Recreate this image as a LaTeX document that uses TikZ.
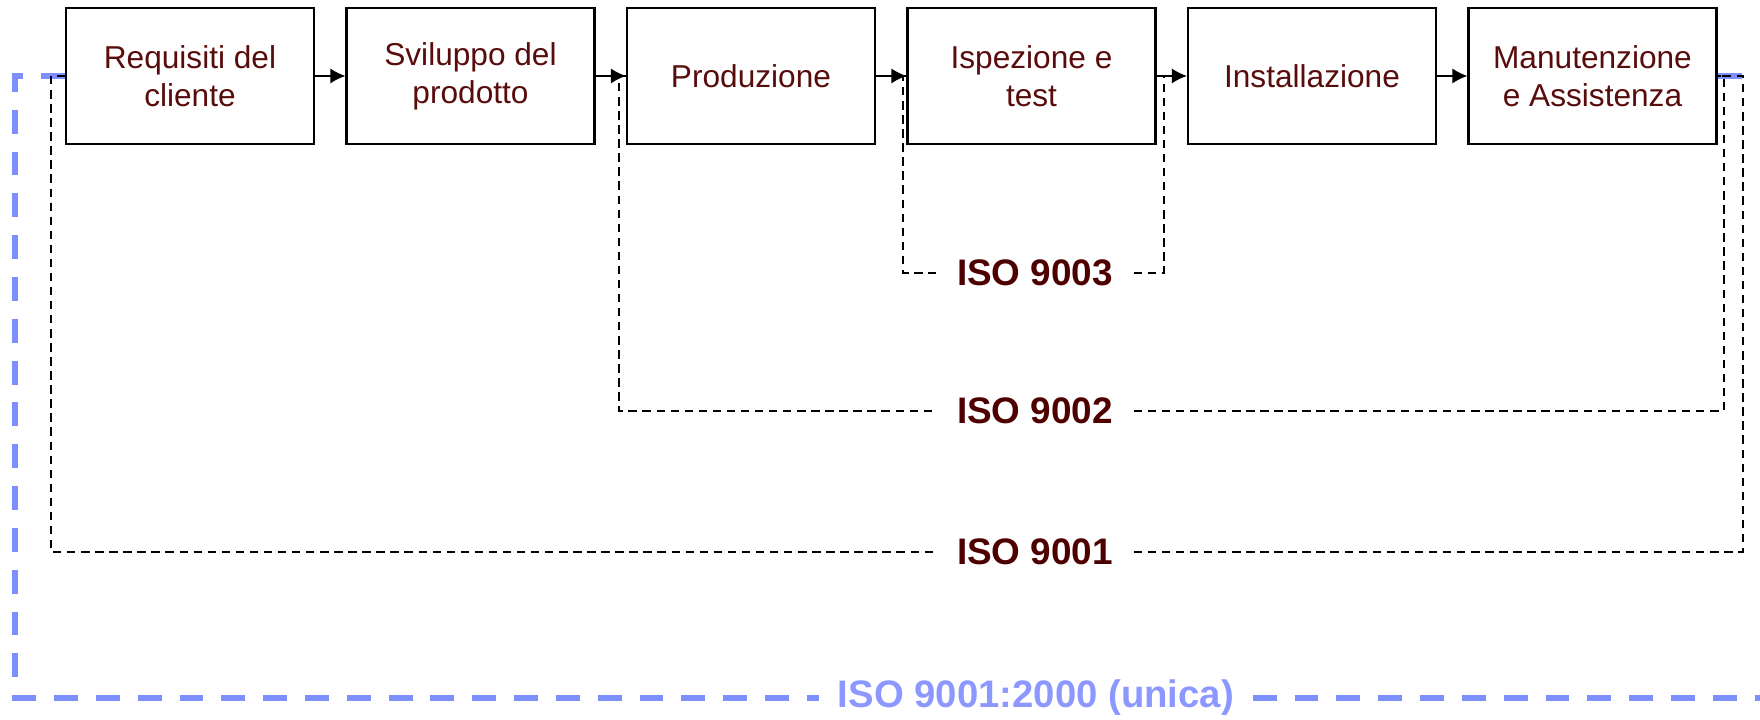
\documentclass[tikz,border=0pt]{standalone}
\usepackage{fontspec}
\setmainfont{Liberation Sans}
\usetikzlibrary{arrows.meta}

\definecolor{boxtext}{RGB}{88,12,12}
\definecolor{isotext}{RGB}{78,0,0}
\definecolor{qualblue}{RGB}{125,142,255}
\definecolor{qualtext}{RGB}{140,152,255}

\tikzset{
    stepbox/.style={draw, line width=0.6pt, minimum width=2.48cm, minimum height=1.36cm,
        align=center, text=boxtext, font=\fontsize{9}{10.8}\selectfont},
    flow/.style={-{Latex[length=4.3pt,width=4.3pt]}, line width=0.4pt},
    isoline/.style={line width=0.55pt, dash pattern=on 2.4pt off 1.6pt},
    isolabel/.style={text=isotext, inner xsep=0.2cm, font=\fontsize{10.5}{12.6}\selectfont\bfseries},
    qualline/.style={qualblue, line width=1.7pt, dash pattern=on 6.8pt off 5.1pt},
    quallabel/.style={text=qualtext, inner xsep=0.18cm, font=\fontsize{10.9}{13}\selectfont\bfseries}
}

\begin{document}
\begin{tikzpicture}
    \useasboundingbox (0,0) rectangle (17.6,7.2);

    % fasi del processo
    \foreach \txt [count=\i] in {{Requisiti del\\cliente}, {Sviluppo del\\prodotto}, Produzione,
            {Ispezione e\\test}, Installazione, {Manutenzione\\e Assistenza}} {
        \node[stepbox] (b\i) at ({1.9+2.805*(\i-1)},6.44) {\txt};
    }
    \foreach \i/\j in {1/2, 2/3, 3/4, 4/5, 5/6} {
        \draw[flow] (b\i.east) -- (b\j.west);
    }

    % norme
    \node[isolabel] (iso3) at (10.35,4.47) {ISO 9003};
    \node[isolabel] (iso2) at (10.35,3.09) {ISO 9002};
    \node[isolabel] (iso1) at (10.35,1.68) {ISO 9001};
    \node[quallabel] (isoall) at (10.36,0.22) {ISO 9001:2000 (unica)};

    % norma unica (blu)
    \draw[qualline] (b1.west) -| (0.15,0.22) -- (isoall.west);
    \draw[qualline] (isoall.east) -- (17.72,0.22) |- (b6.east);

    % campi delle vecchie norme
    \draw[isoline] (b4.west) -- ([xshift=-0.03cm]b4.west) |- (iso3.west);
    \draw[isoline] (iso3.east) -| ([xshift=0.07cm]b4.east) -- (b4.east);

    \draw[isoline] (b3.west) -- ([xshift=-0.07cm]b3.west) |- (iso2.west);
    \draw[isoline] (iso2.east) -| ([xshift=0.06cm]b6.east) -- (b6.east);

    \draw[isoline] (b1.west) -- ([xshift=-0.14cm]b1.west) |- (iso1.west);
    \draw[isoline] (iso1.east) -| ([xshift=0.25cm]b6.east) -- (b6.east);
\end{tikzpicture}
\end{document}
